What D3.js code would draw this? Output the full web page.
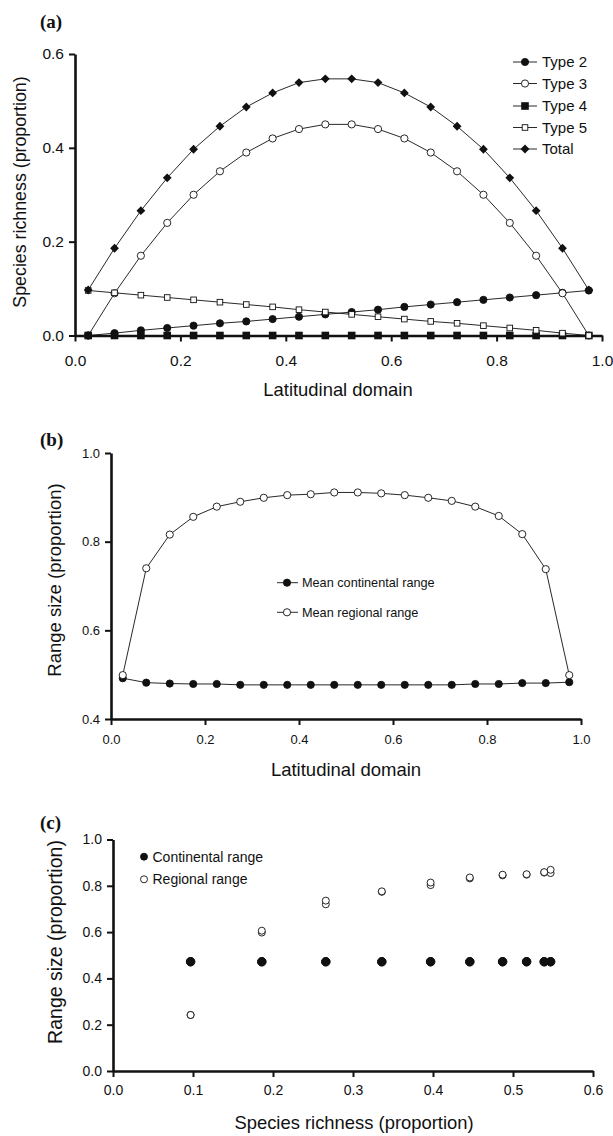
<!DOCTYPE html>
<html>
<head>
<meta charset="utf-8">
<script src="https://cdn.jsdelivr.net/npm/d3@7"></script>
<style>
body{margin:0;background:#fff;}
svg text{font-family:"Liberation Sans", Arial, Helvetica, sans-serif; fill:#111;}
svg text.plabel{font-family:"Liberation Serif", "Times New Roman", serif; font-weight:bold;}
</style>
</head>
<body>
<svg id="fig" width="613" height="1136"></svg>
<script>
// latitudinal bands (midpoints)
const latBands = [0.025,0.075,0.125,0.175,0.225,0.275,0.325,0.375,0.425,0.475,0.525,0.575,0.625,0.675,0.725,0.775,0.825,0.875,0.925,0.975];

// (a) species richness by type
const type2 = [0.000,0.005,0.011,0.016,0.021,0.026,0.030,0.035,0.040,0.045,0.050,0.055,0.061,0.066,0.071,0.076,0.081,0.086,0.091,0.096];
const type3 = [0.000,0.090,0.170,0.240,0.300,0.350,0.390,0.420,0.440,0.450,0.450,0.440,0.420,0.390,0.350,0.300,0.240,0.170,0.090,0.000];
const type4 = [0,0,0,0,0,0,0,0,0,0,0,0,0,0,0,0,0,0,0,0];
const type5 = [0.096,0.091,0.086,0.081,0.076,0.071,0.066,0.061,0.055,0.050,0.045,0.040,0.035,0.030,0.026,0.021,0.016,0.011,0.005,0.000];
const total = [0.097,0.186,0.266,0.336,0.397,0.446,0.487,0.517,0.539,0.547,0.547,0.539,0.517,0.487,0.446,0.397,0.336,0.266,0.186,0.097];

// (b) mean range size by band
const contRange = [0.492,0.482,0.480,0.479,0.479,0.477,0.477,0.477,0.477,0.477,0.477,0.477,0.477,0.477,0.477,0.479,0.479,0.481,0.481,0.483];
const regRange = [0.499,0.740,0.816,0.856,0.879,0.890,0.899,0.905,0.907,0.911,0.911,0.909,0.905,0.899,0.892,0.879,0.858,0.817,0.738,0.499];

// (c) range size against richness
const richness = [0.097,0.186,0.266,0.336,0.397,0.446,0.487,0.517,0.539,0.547,0.547,0.539,0.517,0.487,0.446,0.397,0.336,0.266,0.186,0.097];
const contByRich = [0.472,0.472,0.472,0.472,0.472,0.472,0.472,0.472,0.472,0.472,0.472,0.472,0.472,0.472,0.472,0.472,0.472,0.472,0.472,0.472];
const regByRich = [0.242,0.598,0.720,0.774,0.803,0.832,0.845,0.848,0.857,0.855,0.869,0.859,0.850,0.848,0.836,0.814,0.776,0.736,0.606,0.242];

const svg = d3.select('#fig');
svg.append('rect').attr('width',613).attr('height',1136).attr('fill','#fff');

const fmt = d3.format('.1f');

function marker(g, kind, cx, cy, r){
	r = r || 3.6;
	if(kind=='circleFill' || kind=='circleOpen'){
		g.append('circle').attr('cx',cx).attr('cy',cy).attr('r',r)
			.attr('fill', kind=='circleFill' ? '#111' : '#fff')
			.attr('stroke','#111').attr('stroke-width',0.9);
	}else if(kind=='squareFill'){
		g.append('rect').attr('x',cx-3.8).attr('y',cy-3.8).attr('width',7.6).attr('height',7.6)
			.attr('fill','#111');
	}else if(kind=='squareOpen'){
		g.append('rect').attr('x',cx-2.8).attr('y',cy-2.8).attr('width',5.6).attr('height',5.6)
			.attr('fill','#fff').attr('stroke','#111').attr('stroke-width',0.9);
	}else if(kind=='diamond'){
		var d = 4.4;
		g.append('path').attr('d','M'+cx+','+(cy-d)+'L'+(cx+d)+','+cy+'L'+cx+','+(cy+d)+'L'+(cx-d)+','+cy+'Z')
			.attr('fill','#111');
	}
}

function drawAxes(g, x, y, o){
	var xAxis = d3.axisBottom(x).tickValues(o.xTicks).tickFormat(fmt)
		.tickSizeInner(6).tickSizeOuter(0).tickPadding(o.xPad);
	var yAxis = d3.axisLeft(y).tickValues(o.yTicks).tickFormat(fmt)
		.tickSizeInner(6).tickSizeOuter(0).tickPadding(5);

	var xg = g.append('g').attr('transform','translate(0,'+y.range()[0]+')').call(xAxis);
	var yg = g.append('g').attr('transform','translate('+x.range()[0]+',0)').call(yAxis);
	[xg, yg].forEach(function(a){
		a.select('.domain').attr('stroke','#111').attr('stroke-width',2.6);
		a.selectAll('.tick line').attr('stroke','#111').attr('stroke-width',2);
		a.selectAll('.tick text').attr('font-size',o.tickFont).attr('fill','#111')
			.style('font-family','"Liberation Sans", Arial, sans-serif');
	});
}

function titles(o){
	svg.append('text').attr('class','plabel').attr('x',40).attr('y',o.labelY)
		.attr('font-size',19).text(o.label);
	svg.append('text').attr('x',o.xTitle[0]).attr('y',o.xTitle[1]).attr('dy','0.35em')
		.attr('text-anchor','middle').attr('font-size',o.xTitleFont).text(o.xText);
	svg.append('text').attr('transform','translate('+o.yTitle[0]+','+o.yTitle[1]+') rotate(-90)')
		.attr('dy','0.35em').attr('text-anchor','middle').attr('font-size',o.yTitleFont).text(o.yText);
}

// ---------- panel (a)
(function(){
	var x = d3.scaleLinear().domain([0,1]).range([75,602]);
	var y = d3.scaleLinear().domain([0,0.6]).range([335.5,54]);
	var g = svg.append('g');

	var series = [
		{name:'Type 2', vals:type2, kind:'circleFill'},
		{name:'Type 3', vals:type3, kind:'circleOpen'},
		{name:'Type 4', vals:type4, kind:'squareFill'},
		{name:'Type 5', vals:type5, kind:'squareOpen'},
		{name:'Total', vals:total, kind:'diamond'}
	];
	var line = d3.line().x(function(d){return x(d[0]);}).y(function(d){return y(d[1]);});

	series.forEach(function(s){
		g.append('path').attr('d', line(d3.zip(latBands, s.vals)))
			.attr('fill','none').attr('stroke','#111').attr('stroke-width',0.9);
	});
	drawAxes(g, x, y, {xTicks:[0,0.2,0.4,0.6,0.8,1.0], yTicks:[0,0.2,0.4,0.6], xPad:13, tickFont:15.5});
	series.forEach(function(s){
		s.vals.forEach(function(v,i){ marker(g, s.kind, x(latBands[i]), y(v)); });
	});

	// legend
	var rows = [62,83.5,106,127.5,149];
	series.forEach(function(s,i){
		g.append('line').attr('x1',513).attr('x2',537).attr('y1',rows[i]).attr('y2',rows[i])
			.attr('stroke','#111').attr('stroke-width',0.9);
		marker(g, s.kind, 525, rows[i]);
		g.append('text').attr('x',542).attr('y',rows[i]).attr('dy','0.35em')
			.attr('font-size',15).text(s.name);
	});

	titles({label:'(a)', labelY:28, xTitle:[338,390], xTitleFont:18.4, xText:'Latitudinal domain',
		yTitle:[20,192], yTitleFont:17.8, yText:'Species richness (proportion)'});
})();

// ---------- panel (b)
(function(){
	var x = d3.scaleLinear().domain([0,1]).range([111,581]);
	var y = d3.scaleLinear().domain([0.4,1.0]).range([719,453]);
	var g = svg.append('g');
	var line = d3.line().x(function(d){return x(d[0]);}).y(function(d){return y(d[1]);});

	var series = [
		{name:'Mean continental range', vals:contRange, kind:'circleFill'},
		{name:'Mean regional range', vals:regRange, kind:'circleOpen'}
	];
	series.forEach(function(s){
		g.append('path').attr('d', line(d3.zip(latBands, s.vals)))
			.attr('fill','none').attr('stroke','#111').attr('stroke-width',0.9);
	});
	drawAxes(g, x, y, {xTicks:[0,0.2,0.4,0.6,0.8,1.0], yTicks:[0.4,0.6,0.8,1.0], xPad:10, tickFont:13});
	series.forEach(function(s){
		s.vals.forEach(function(v,i){ marker(g, s.kind, x(latBands[i]), y(v)); });
	});

	var rows = [582.7,612.3];
	series.forEach(function(s,i){
		g.append('line').attr('x1',277).attr('x2',298).attr('y1',rows[i]).attr('y2',rows[i])
			.attr('stroke','#111').attr('stroke-width',0.9);
		marker(g, s.kind, 287, rows[i]);
		g.append('text').attr('x',302).attr('y',rows[i]).attr('dy','0.35em')
			.attr('font-size',12.7).text(s.name);
	});

	titles({label:'(b)', labelY:446, xTitle:[346,770], xTitleFont:18.5, xText:'Latitudinal domain',
		yTitle:[55,580], yTitleFont:18.5, yText:'Range size (proportion)'});
})();

// ---------- panel (c)
(function(){
	var x = d3.scaleLinear().domain([0,0.6]).range([113,593]);
	var y = d3.scaleLinear().domain([0,1.0]).range([1071,839.5]);
	var g = svg.append('g');

	drawAxes(g, x, y, {xTicks:[0,0.1,0.2,0.3,0.4,0.5,0.6], yTicks:[0,0.2,0.4,0.6,0.8,1.0], xPad:8, tickFont:14});

	contByRich.forEach(function(v,i){ marker(g, 'circleFill', x(richness[i]), y(v), 4.2); });
	regByRich.forEach(function(v,i){ marker(g, 'circleOpen', x(richness[i]), y(v), 3.5); });

	var legend = [{name:'Continental range', kind:'circleFill', y:856.7}, {name:'Regional range', kind:'circleOpen', y:879.3}];
	legend.forEach(function(l){
		marker(g, l.kind, 144, l.y, 3.5);
		g.append('text').attr('x',152.5).attr('y',l.y).attr('dy','0.35em')
			.attr('font-size',14).text(l.name);
	});

	titles({label:'(c)', labelY:829, xTitle:[354,1123], xTitleFont:18.4, xText:'Species richness (proportion)',
		yTitle:[55,942], yTitleFont:19.5, yText:'Range size (proportion)'});
})();
</script>
</body>
</html>
